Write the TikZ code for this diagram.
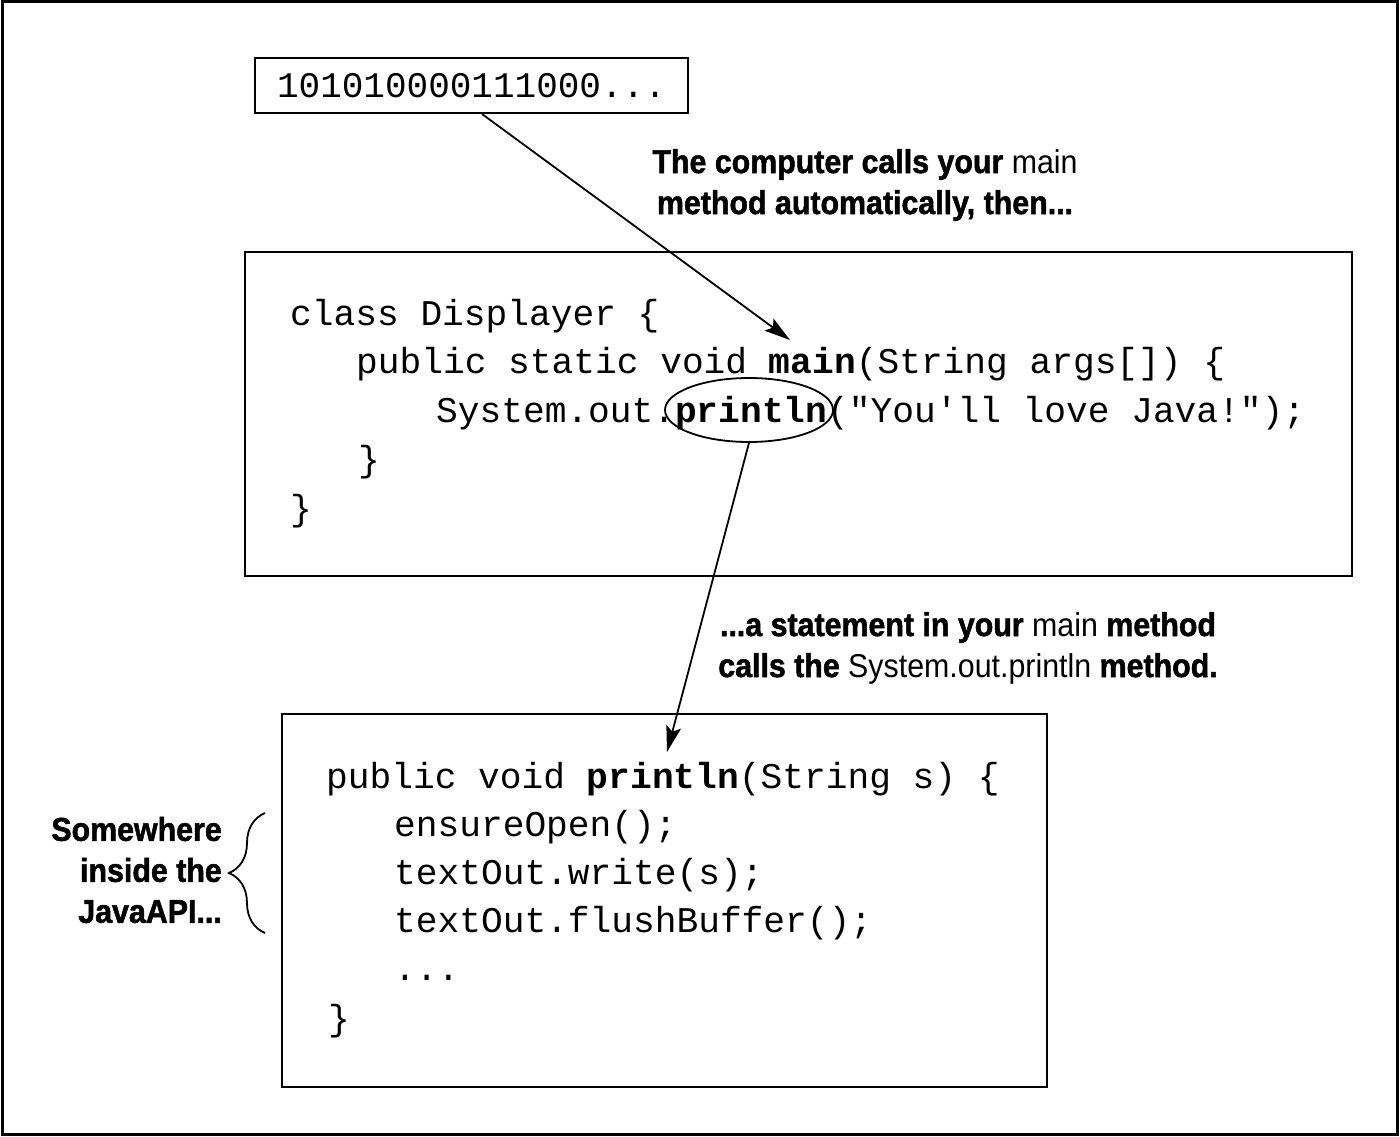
\documentclass[tikz,border=0pt]{standalone}
\usepackage{fontspec}
\setmonofont{Liberation Mono}
\newfontfamily\notefont[FakeStretch=0.92,BoldFeatures={FakeBold=1.5}]{Liberation Sans}
\usetikzlibrary{arrows.meta,positioning,shapes.geometric,calc,decorations.pathreplacing}

\begin{document}
\begin{tikzpicture}[x=1pt,y=-1pt,
  codebox/.style={draw,line width=2pt,inner sep=0pt},
  codeline/.style={anchor=base west,inner sep=0pt,font=\ttfamily\fontsize{36.2}{49}\selectfont},
  note/.style={align=center,inner sep=0pt,font=\notefont\bfseries\fontsize{33}{41}\selectfont},
  callarrow/.style={line width=1.8pt,-{Stealth[length=26pt,width=15pt,inset=5pt]}}]
\useasboundingbox (0,0) rectangle (1400,1137);
\draw[line width=3pt] (2,2) rectangle (1397,1134);
% machine code
\node[codebox,minimum width=433,minimum height=55,font=\ttfamily\fontsize{36}{49}\selectfont] (bits) at (471.5,85.5) {101010000111000...};
% the Displayer class
\node[codebox,minimum width=1107,minimum height=324] (displayer) at (798.5,414) {};
\node[codeline] (dl1) at (290,325) {class Displayer \{};
\node[codeline] (dl2) at (356,373) {public static void \textbf{main}(String args[]) \{};
\node[codeline] (dl3) at (436,422) {System.out.\textbf{println}("You'll love Java!");};
\node[codeline] (dl4) at (358,471) {\}};
\node[codeline] (dl5) at (290,520) {\}};
\node[draw,ellipse,line width=1.8pt,minimum width=168,minimum height=64,inner sep=0pt] (callout) at (749,410) {};
% println inside the API
\node[codebox,minimum width=765,minimum height=373] (api) at (664.5,900.5) {};
\node[codeline] (al1) at (326,788) {public void \textbf{println}(String s) \{};
\node[codeline] (al2) at (394,836) {ensureOpen();};
\node[codeline] (al3) at (394,884) {textOut.write(s);};
\node[codeline] (al4) at (394,932) {textOut.flushBuffer();};
\node[codeline] (al5) at (394,980) {...};
\node[codeline] (al6) at (328,1030) {\}};
% notes
\node[note] (note1) at (865,185) {The computer calls your \mdseries main\\method automatically, then...};
\node[note] (note2) at (968,648) {...a statement in your \mdseries main \bfseries method\\calls the \mdseries System.out.println \bfseries method.};
\node[note,align=right,anchor=east] (note3) at (222,870) {Somewhere\\inside the\\JavaAPI...};
% connectors
\coordinate (mainword) at (790,340);
\coordinate (apiprintln) at (667,752);
\draw[callarrow] ($(bits.south)+(10.5,0)$) -- (mainword);
\draw[callarrow] (callout.south) -- (apiprintln);
\draw[line width=1.8pt,decorate,decoration={brace,amplitude=36pt}] (265,933) -- (265,813);
\end{tikzpicture}
\end{document}
